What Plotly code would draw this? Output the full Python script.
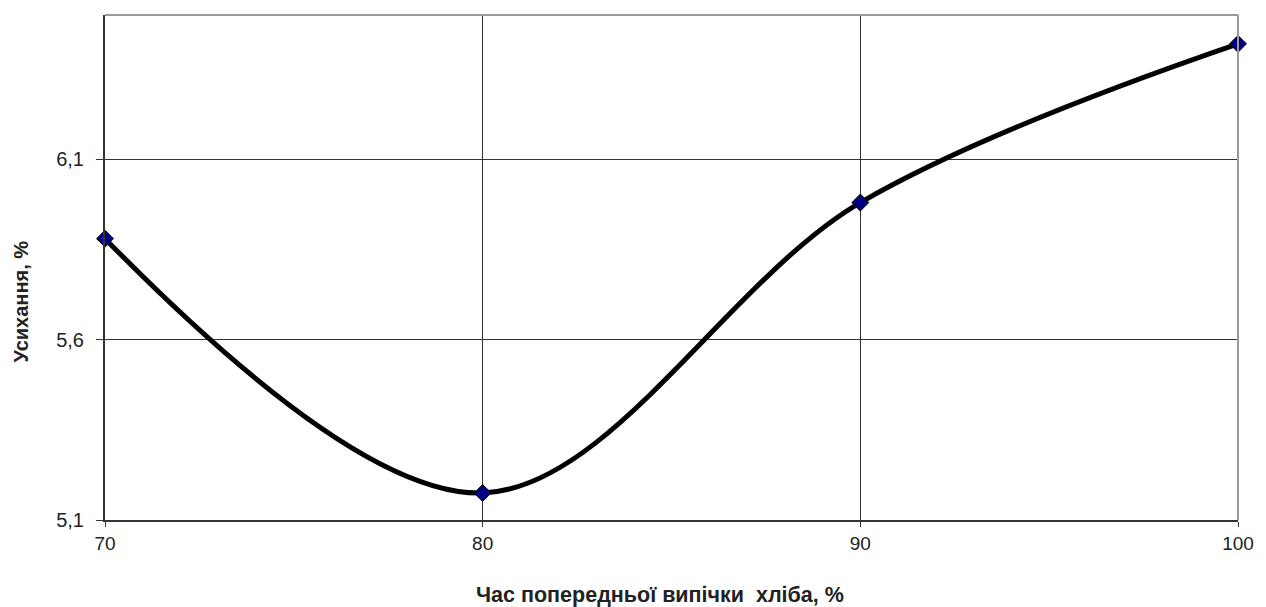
import plotly.graph_objects as go

# Pre-baking time (x) and shrinkage (y)
bake_time = [70, 80, 90, 100]
shrinkage = [5.88, 5.175, 5.98, 6.42]

x_ticks = [70, 80, 90, 100]
y_ticks = [5.1, 5.6, 6.1]

x_title = "<b>Час попередньої випічки  хліба, %</b>"
y_title = "<b>Усихання, %</b>"

fig = go.Figure()
fig.add_trace(go.Scatter(
    x=bake_time, y=shrinkage,
    mode="lines+markers",
    line=dict(color="black", width=5, shape="spline", smoothing=1),
    marker=dict(symbol="diamond", size=13, color="#000080",
                line=dict(color="black", width=1)),
    showlegend=False,
    cliponaxis=False,
))

font = "Liberation Sans, Arial, sans-serif"
fig.update_layout(
    width=1266, height=607,
    margin=dict(l=105, r=21, t=15, b=87),
    paper_bgcolor="white", plot_bgcolor="white",
    separators=", ",
    font=dict(family=font, size=19, color="#222"),
    xaxis=dict(
        range=[70, 100], tickvals=x_ticks,
        tickfont=dict(size=19),
        showgrid=True, gridcolor="#333", gridwidth=1,
        showline=True, linecolor="#333", linewidth=2, mirror=False,
        ticks="outside", ticklen=5, tickcolor="#333",
        zeroline=False,
    ),
    yaxis=dict(
        range=[5.1, 6.5], tickvals=y_ticks,
        tickfont=dict(size=20),
        showgrid=True, gridcolor="#333", gridwidth=1,
        showline=True, linecolor="#333", linewidth=2,
        ticks="outside", ticklen=7, tickcolor="#333",
        ticklabelstandoff=8,
        zeroline=False,
    ),
)

# axis titles
fig.add_annotation(text=x_title, xref="paper", yref="paper",
                   x=(663 - 105) / 1140, y=-(595 - 520) / 505,
                   xanchor="center", yanchor="middle", showarrow=False,
                   font=dict(size=21.5, family=font, color="#222"))
fig.add_annotation(text=y_title, xref="paper", yref="paper",
                   x=-(105 - 20) / 1140, y=(520 - 302) / 505,
                   xanchor="center", yanchor="middle", showarrow=False,
                   textangle=-90,
                   font=dict(size=20, family=font, color="#222"))

# light frame along the top and right of the plot area
fig.add_shape(type="line", xref="paper", yref="paper", x0=0, x1=1, y0=1, y1=1,
              line=dict(color="#999", width=2))
fig.add_shape(type="line", xref="paper", yref="paper", x0=1, x1=1, y0=0, y1=1,
              line=dict(color="#999", width=2))

fig.write_html("out.html")
